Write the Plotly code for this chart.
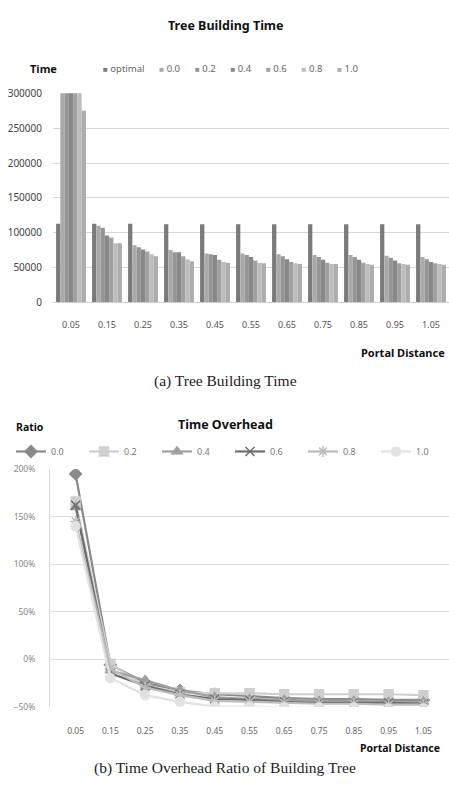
import plotly.graph_objects as go

# Portal distance categories (shared by both panels)
distances = ["0.05", "0.15", "0.25", "0.35", "0.45", "0.55", "0.65", "0.75", "0.85", "0.95", "1.05"]

# Tree building time per series
time_optimal = [113000, 113000, 113000, 112000, 112000, 112000, 112000, 112000, 112000, 112000, 112000]
time_00 = [333000, 110000, 82000, 75000, 70000, 70000, 69000, 68000, 68000, 67000, 65000]
time_02 = [302000, 107000, 79000, 72000, 69000, 68000, 66000, 65000, 65000, 64000, 62000]
time_04 = [305000, 96000, 76000, 72000, 68000, 65000, 62000, 61000, 61000, 60000, 58000]
time_06 = [310000, 93000, 73000, 66000, 61000, 60000, 58000, 57000, 57000, 56000, 56000]
time_08 = [303000, 85000, 69000, 62000, 58000, 57000, 56000, 55000, 55000, 55000, 55000]
time_10 = [275000, 85000, 66000, 59000, 57000, 56000, 55000, 55000, 54000, 54000, 54000]

bar_names = ["optimal", "0.0", "0.2", "0.4", "0.6", "0.8", "1.0"]
bar_values = [time_optimal, time_00, time_02, time_04, time_06, time_08, time_10]
bar_colors = ["#7a7a7a", "#a9a9a9", "#959595", "#888888", "#a0a0a0", "#bdbdbd", "#adadad"]

# Time overhead ratio per series
ratio_00 = [1.95, -0.06, -0.25, -0.33, -0.37, -0.39, -0.41, -0.42, -0.42, -0.43, -0.43]
ratio_02 = [1.66, -0.05, -0.28, -0.35, -0.36, -0.36, -0.37, -0.37, -0.37, -0.37, -0.38]
ratio_04 = [1.60, -0.12, -0.22, -0.33, -0.40, -0.42, -0.43, -0.44, -0.44, -0.45, -0.45]
ratio_06 = [1.62, -0.15, -0.28, -0.37, -0.42, -0.43, -0.45, -0.46, -0.46, -0.46, -0.47]
ratio_08 = [1.45, -0.10, -0.30, -0.38, -0.44, -0.45, -0.46, -0.47, -0.47, -0.48, -0.48]
ratio_10 = [1.40, -0.20, -0.38, -0.45, -0.50, -0.50, -0.51, -0.51, -0.51, -0.52, -0.52]

line_names = ["0.0", "0.2", "0.4", "0.6", "0.8", "1.0"]
line_values = [ratio_00, ratio_02, ratio_04, ratio_06, ratio_08, ratio_10]
line_colors = ["#8a8a8a", "#cfcfcf", "#a0a0a0", "#6e6e6e", "#bcbcbc", "#e2e2e2"]
line_symbols = ["diamond", "square", "triangle-up", "x-thin-open", "asterisk-open", "circle"]

W, H = 449, 796
SANS = "Noto Sans"


def py(px):
    return 1 - px / H


def px_x(px):
    return px / W


fig = go.Figure()

for name, vals, col in zip(bar_names, bar_values, bar_colors):
    fig.add_trace(go.Bar(x=distances, y=vals, name=name, marker=dict(color=col, line=dict(width=0)),
                         xaxis="x", yaxis="y", showlegend=False))

for name, vals, col, sym in zip(line_names, line_values, line_colors, line_symbols):
    fig.add_trace(go.Scatter(x=distances, y=vals, name=name, mode="lines+markers",
                             line=dict(color=col, width=2.2),
                             marker=dict(symbol=sym, size=9, color=col, line=dict(color=col, width=1.5)),
                             xaxis="x2", yaxis="y2", legend="legend2"))

# Legend for the bar panel, built as a single text line
gap = "&nbsp;" * 6
legend_html = gap.join(
    f"<span style='color:{c}; font-size:8px'>■</span>&nbsp;<span style='color:#666'>{n}</span>"
    for n, c in zip(bar_names, bar_colors)
)

annotations = [
    dict(text="<b>Tree Building Time</b>", x=px_x(226), y=py(18), font=dict(size=12.5, color="#111")),
    dict(text="<b>Time</b>", x=px_x(43), y=py(62), font=dict(size=11, color="#111")),
    dict(text=legend_html, x=px_x(101), y=py(62), xanchor="left", font=dict(size=9.5, color="#666")),
    dict(text="<b>Portal Distance</b>", x=px_x(447), y=py(351), xanchor="right", font=dict(size=11, color="#111")),
    dict(text="(a) Tree Building Time", x=px_x(225), y=py(380),
         font=dict(size=15.5, color="#222", family="Liberation Serif")),
    dict(text="<b>Ratio</b>", x=px_x(30), y=py(427), font=dict(size=10.5, color="#111")),
    dict(text="<b>Time Overhead</b>", x=px_x(225), y=py(425), font=dict(size=12.5, color="#111")),
    dict(text="<b>Portal Distance</b>", x=px_x(442), y=py(754), xanchor="right", font=dict(size=10.5, color="#111")),
    dict(text="(b) Time Overhead Ratio of Building Tree", x=px_x(225), y=py(775),
         font=dict(size=15.5, color="#222", family="Liberation Serif")),
]
for a in annotations:
    a.update(xref="paper", yref="paper", showarrow=False)
    a.setdefault("xanchor", "center")
    a.setdefault("yanchor", "middle")

fig.update_layout(
    width=W, height=H,
    margin=dict(l=0, r=0, t=0, b=0),
    paper_bgcolor="white", plot_bgcolor="white",
    font=dict(family=SANS, color="#444"),
    barmode="group", bargap=0.17, bargroupgap=0,
    xaxis=dict(domain=[px_x(53), 1.0], anchor="y", type="category",
               showline=True, linecolor="#d0d0d0", linewidth=1, ticks="",
               tickfont=dict(size=9, color="#555"), ticklabelstandoff=14),
    yaxis=dict(domain=[py(300), py(87)], anchor="x", range=[0, 300000], dtick=50000,
               showgrid=True, gridcolor="#d6d6d6", gridwidth=1, zeroline=False,
               tickformat="d", tickfont=dict(size=10, color="#444"), ticklabelstandoff=10),
    xaxis2=dict(domain=[px_x(50), 1.0], anchor="y2", type="category",
                showline=False, ticks="",
                tickfont=dict(size=8.5, color="#666"), ticklabelstandoff=18),
    yaxis2=dict(domain=[py(712), py(470)], anchor="x2", range=[-0.5, 2.0], dtick=0.5,
                showgrid=True, gridcolor="#dedede", gridwidth=1, zeroline=False,
                showline=True, linecolor="#dcdcdc", linewidth=1,
                tickformat=".0%", tickfont=dict(size=8.5, color="#888"), ticklabelstandoff=12),
    legend2=dict(orientation="h", x=px_x(32), y=py(452), xanchor="left", yanchor="middle",
                 entrywidth=28, font=dict(size=9, color="#777"), bgcolor="rgba(0,0,0,0)"),
    annotations=annotations,
)

fig.write_html("out.html")
